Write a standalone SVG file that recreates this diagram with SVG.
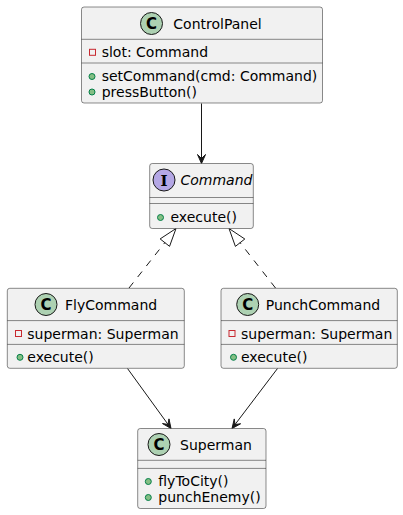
<svg xmlns="http://www.w3.org/2000/svg" width="403" height="515" viewBox="0 0 403 515">
<style>
.box{fill:#F1F1F1;stroke:#181818;stroke-width:0.5}
.sep{stroke:#181818;stroke-width:0.5}
.cls{fill:#ADD1B2;stroke:#181818;stroke-width:1}
.ifc{fill:#B4A7E5;stroke:#181818;stroke-width:1}
.glyph{font-family:"DejaVu Sans",sans-serif;font-weight:bold;font-size:15px;fill:#000;text-anchor:middle}
.iglyph{font-family:"DejaVu Serif",serif;font-weight:bold;font-size:15px;fill:#000;text-anchor:middle}
.t{font-family:"DejaVu Sans",sans-serif;font-size:14px;fill:#000}
.it{font-family:"DejaVu Sans",sans-serif;font-size:14px;font-style:italic;fill:#000}
.priv{fill:none;stroke:#C82930;stroke-width:1}
.pub{fill:#84BE84;stroke:#038048;stroke-width:1}
.edge{fill:none;stroke:#181818;stroke-width:1}
.dash{fill:none;stroke:#181818;stroke-width:1;stroke-dasharray:7,7}
.head{fill:#181818;stroke:#181818;stroke-width:1}
.tri{fill:none;stroke:#181818;stroke-width:1}
</style>
<g id="connectors">
<line class="edge" x1="201.5" y1="103.5" x2="201.5" y2="163.5"/>
<polygon class="head" points="201.5,163.5 197.5,154.5 201.5,158.5 205.5,154.5"/>
<line class="dash" x1="129" y1="288" x2="164.84" y2="242.63"/>
<polygon class="tri" points="176,228.5 169.55,246.35 160.13,238.91"/>
<line class="dash" x1="275.5" y1="288" x2="240.1" y2="242.7"/>
<polygon class="tri" points="229,228.5 244.8,239 235.4,246.4"/>
<line class="edge" x1="127.5" y1="368.5" x2="171" y2="428.5"/>
<polygon class="head" points="171,428.5 168.97,418.86 168.07,424.45 162.48,423.55"/>
<line class="edge" x1="277.5" y1="368.5" x2="232" y2="428.5"/>
<polygon class="head" points="232,428.5 240.63,423.75 235.02,424.52 234.25,418.91"/>
</g>
<g id="ControlPanel">
<rect class="box" x="81.5" y="7" width="241" height="96" rx="2.5" ry="2.5"/>
<ellipse class="cls" cx="151.5" cy="23.5" rx="11" ry="11"/>
<text class="glyph" x="151.5" y="29">C</text>
<text class="t" x="173.3" y="28.5">ControlPanel</text>
<line class="sep" x1="81.5" y1="39.3" x2="322.5" y2="39.3"/>
<rect class="priv" x="89.5" y="49.3" width="6" height="6"/>
<text class="t" x="101.7" y="57">slot: Command</text>
<line class="sep" x1="81.5" y1="63" x2="322.5" y2="63"/>
<ellipse class="pub" cx="92" cy="76.5" rx="3" ry="3"/>
<text class="t" x="101.7" y="81">setCommand(cmd: Command)</text>
<ellipse class="pub" cx="92" cy="92" rx="3" ry="3"/>
<text class="t" x="101.7" y="97">pressButton()</text>
</g>
<g id="Command">
<rect class="box" x="149.7" y="163.5" width="103.6" height="65" rx="2.5" ry="2.5"/>
<ellipse class="ifc" cx="164" cy="180" rx="11" ry="11"/>
<text class="iglyph" x="164" y="185.5">I</text>
<text class="it" x="180.5" y="185">Command</text>
<line class="sep" x1="149.7" y1="197.5" x2="253.3" y2="197.5"/>
<line class="sep" x1="149.7" y1="203.5" x2="253.3" y2="203.5"/>
<ellipse class="pub" cx="160.5" cy="217.5" rx="3" ry="3"/>
<text class="t" x="170.5" y="222">execute()</text>
</g>
<g id="FlyCommand">
<rect class="box" x="7.3" y="288.3" width="177" height="80" rx="2.5" ry="2.5"/>
<ellipse class="cls" cx="46" cy="304.5" rx="11" ry="11"/>
<text class="glyph" x="46" y="310">C</text>
<text class="t" x="65" y="309.5">FlyCommand</text>
<line class="sep" x1="7.3" y1="320.6" x2="184.3" y2="320.6"/>
<rect class="priv" x="15.5" y="330.5" width="6" height="6"/>
<text class="t" x="27.3" y="338.5">superman: Superman</text>
<line class="sep" x1="7.3" y1="344.4" x2="184.3" y2="344.4"/>
<ellipse class="pub" cx="20" cy="357.3" rx="3" ry="3"/>
<text class="t" x="27.3" y="361.8">execute()</text>
</g>
<g id="PunchCommand">
<rect class="box" x="221" y="288.3" width="176.3" height="80" rx="2.5" ry="2.5"/>
<ellipse class="cls" cx="247.7" cy="304.5" rx="11" ry="11"/>
<text class="glyph" x="247.7" y="310">C</text>
<text class="t" x="265.7" y="309.5">PunchCommand</text>
<line class="sep" x1="221" y1="320.6" x2="397.3" y2="320.6"/>
<rect class="priv" x="229" y="330.5" width="6" height="6"/>
<text class="t" x="241" y="338.5">superman: Superman</text>
<line class="sep" x1="221" y1="344.4" x2="397.3" y2="344.4"/>
<ellipse class="pub" cx="233.5" cy="357.3" rx="3" ry="3"/>
<text class="t" x="241" y="361.8">execute()</text>
</g>
<g id="Superman">
<rect class="box" x="137.7" y="428.5" width="128.3" height="80" rx="2.5" ry="2.5"/>
<ellipse class="cls" cx="159" cy="444.5" rx="11" ry="11"/>
<text class="glyph" x="159" y="450">C</text>
<text class="t" x="180" y="449.5">Superman</text>
<line class="sep" x1="137.7" y1="460.3" x2="266" y2="460.3"/>
<line class="sep" x1="137.7" y1="468.4" x2="266" y2="468.4"/>
<ellipse class="pub" cx="148.3" cy="481.5" rx="3" ry="3"/>
<text class="t" x="158.3" y="486">flyToCity()</text>
<ellipse class="pub" cx="148.3" cy="497.5" rx="3" ry="3"/>
<text class="t" x="158.3" y="502.3">punchEnemy()</text>
</g>
</svg>
